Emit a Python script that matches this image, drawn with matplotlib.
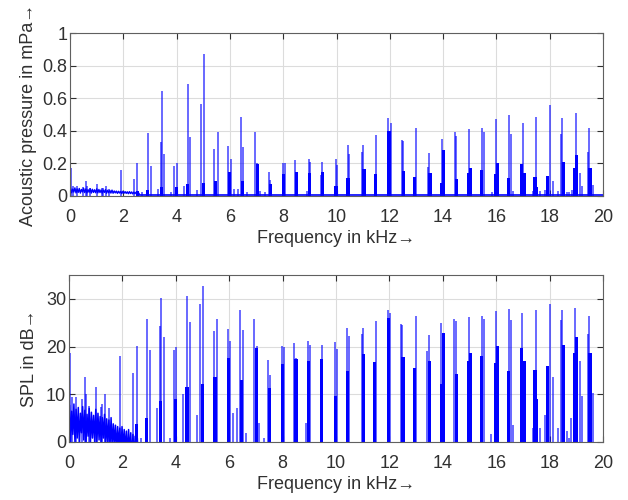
import numpy as np
import matplotlib
matplotlib.use("Agg")
import matplotlib.pyplot as plt

plt.rcParams['font.family'] = ['Liberation Sans', 'DejaVu Sans']

# Reference pressure for SPL (20 uPa, expressed in mPa)
P_REF = 0.02

# Thin spectral lines: frequency in kHz, amplitude in mPa
spike_freq = [0.02, 0.10, 0.25, 0.47, 0.59, 0.62, 0.75, 1.00, 1.19, 1.25, 1.35, 1.48,
              1.91, 2.40, 2.53, 2.70, 2.91, 3.04, 3.31, 3.41, 3.45, 3.54, 3.80, 3.92, 4.02,
              4.28, 4.43, 4.52, 4.78, 4.91, 5.03, 5.42, 5.54, 5.94, 6.03, 6.15, 6.30,
              6.41, 6.51, 6.63, 6.93, 7.03, 7.13, 7.30, 7.45, 7.52, 7.99, 8.05, 8.44,
              8.52, 8.88, 8.95, 9.01, 9.42, 9.47, 9.97, 10.02, 10.43, 10.47, 10.96, 11.00,
              11.50, 11.94, 12.04, 12.44, 12.48, 12.98, 13.42, 13.48, 13.94, 13.99, 14.43,
              14.49, 14.98, 15.47, 15.53, 15.82, 15.98, 16.48, 16.54, 16.63, 16.98, 17.38,
              17.42, 17.50, 17.64, 17.83, 18.00, 18.12, 18.33, 18.44, 18.48, 18.64, 18.74,
              18.82, 18.97, 19.03, 19.12, 19.20, 19.44, 19.48, 19.64]
spike_amp = [0.17, 0.059, 0.059, 0.056, 0.095, 0.063, 0.048, 0.076, 0.047, 0.05, 0.063, 0.045,
             0.16, 0.105, 0.205, 0.022, 0.385, 0.185, 0.045, 0.33, 0.645, 0.255, 0.022, 0.185, 0.20,
             0.063, 0.685, 0.36, 0.038, 0.565, 0.87, 0.29, 0.39, 0.305, 0.23, 0.04, 0.045,
             0.485, 0.30, 0.025, 0.39, 0.205, 0.032, 0.022, 0.145, 0.10, 0.205, 0.20, 0.22,
             0.15, 0.032, 0.23, 0.21, 0.13, 0.21, 0.225, 0.19, 0.31, 0.26, 0.27, 0.315,
             0.375, 0.48, 0.45, 0.345, 0.34, 0.42, 0.18, 0.265, 0.35, 0.28, 0.39,
             0.37, 0.41, 0.42, 0.39, 0.024, 0.47, 0.495, 0.38, 0.03, 0.45, 0.028,
             0.035, 0.485, 0.028, 0.038, 0.56, 0.095, 0.028, 0.38, 0.48, 0.026, 0.022,
             0.036, 0.51, 0.24, 0.14, 0.06, 0.27, 0.42, 0.065]

# Broad (leaky) parts of each line cluster: frequency in kHz, amplitude in mPa
band_freq = [2.53, 2.91, 3.44, 4.00, 4.42, 5.01, 5.47, 5.98, 6.47, 7.03, 7.51, 8.00,
             8.50, 8.98, 9.47, 9.98, 10.43, 11.03, 11.45, 11.97, 12.51, 12.93, 13.51,
             13.94, 14.02, 14.51, 14.95, 15.04, 15.45, 15.97, 16.05, 16.45, 16.95, 17.04,
             17.45, 17.51, 17.93, 18.51, 18.92, 19.02, 19.51]
band_amp = [0.031, 0.036, 0.054, 0.056, 0.076, 0.081, 0.095, 0.15, 0.089, 0.195, 0.074, 0.132,
            0.147, 0.14, 0.147, 0.06, 0.112, 0.166, 0.138, 0.40, 0.155, 0.119, 0.142,
            0.082, 0.28, 0.104, 0.142, 0.172, 0.159, 0.135, 0.202, 0.111, 0.195, 0.142,
            0.115, 0.056, 0.125, 0.209, 0.172, 0.252, 0.172]

# Broadband noise floor below 2.6 kHz (mPa), then a low floor up to 20 kHz
floor_amp = [0.048, 0.020, 0.042, 0.024, 0.050, 0.019, 0.044, 0.022, 0.046, 0.018, 0.040, 0.025, 0.047,
             0.021, 0.043, 0.019, 0.039, 0.023, 0.045, 0.018, 0.041, 0.022, 0.038, 0.020, 0.044, 0.019,
             0.040, 0.021, 0.037, 0.018, 0.036, 0.022, 0.039, 0.017, 0.035, 0.020, 0.034, 0.018, 0.036,
             0.017, 0.031, 0.019, 0.030, 0.016, 0.029, 0.018, 0.028, 0.015, 0.029, 0.017, 0.027, 0.016,
             0.026, 0.014, 0.027, 0.015, 0.025, 0.013, 0.024, 0.014, 0.023, 0.012, 0.022, 0.012]
floor_freq = np.linspace(0.02, 2.6, len(floor_amp))
tail_freq = [2.6, 20.0]
tail_amp = [0.008, 0.008]


def spl(p):
    return 20 * np.log10(np.asarray(p) / P_REF)


fig = plt.figure(figsize=(6.28, 5.0), dpi=100)
ax1 = fig.add_axes([70 / 628, 1 - 196 / 500, 533 / 628, 163 / 500])
ax2 = fig.add_axes([69 / 628, 1 - 442 / 500, 534 / 628, 167 / 500])

blue = (0, 0, 1)

# Top: linear pressure spectrum
ax1.plot(floor_freq, floor_amp, color=blue, lw=1.0)
ax1.plot(tail_freq, tail_amp, color=blue, lw=1.2)
ax1.bar(band_freq, band_amp, width=0.12, color=blue, lw=0)
ax1.vlines(spike_freq, 0, spike_amp, color=blue, lw=1.1, alpha=0.75)

# Bottom: sound pressure level
ax2.plot(floor_freq, spl(floor_amp), color=blue, lw=1.1)
ax2.bar(band_freq, spl(band_amp), width=0.12, color=blue, lw=0)
ax2.vlines(spike_freq, -5, spl(spike_amp), color=blue, lw=1.1, alpha=0.75)

text_col = '#303030'
for ax in (ax1, ax2):
    ax.set_xlim(0, 20)
    ax.set_xticks(range(0, 21, 2))
    ax.grid(True, color='#dcdcdc', lw=0.8)
    ax.set_axisbelow(True)
    ax.tick_params(direction='in', top=True, right=True, length=4, width=0.8,
                   labelsize=13, colors=text_col)
    ax.tick_params(axis='x', pad=9)
    ax.tick_params(axis='y', pad=2)
    for s in ax.spines.values():
        s.set_color('#606060')
        s.set_linewidth(0.8)
    ax.set_xlabel('Frequency in kHz→', fontsize=13, color=text_col, labelpad=3)

ax1.set_ylim(0, 1)
ax1.set_yticks([0, 0.2, 0.4, 0.6, 0.8, 1])
ax1.set_yticklabels(['0', '0.2', '0.4', '0.6', '0.8', '1'])
ax1.set_ylabel('Acoustic pressure in mPa→', fontsize=13, color=text_col, labelpad=4)

ax2.set_ylim(0, 35)
ax2.set_yticks([0, 10, 20, 30])
ax2.set_ylabel('SPL in dB→', fontsize=13, color=text_col, labelpad=6)

fig.savefig('out.png', dpi=100)
